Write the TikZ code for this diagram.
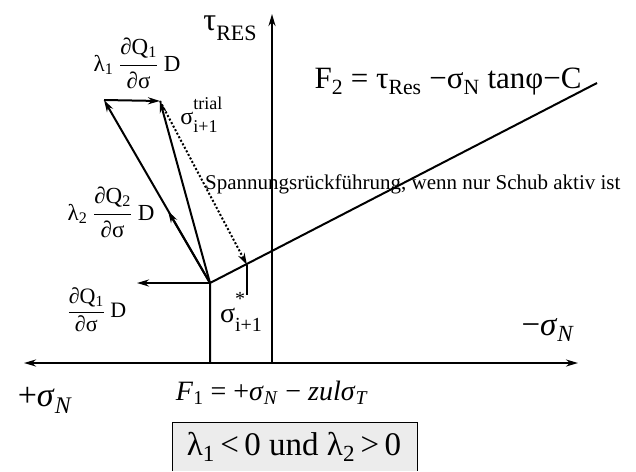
\documentclass[tikz,border=0pt]{standalone}
\usepackage{fontspec}
\setmainfont{Liberation Serif}
\usetikzlibrary{arrows.meta}
\newcommand{\myfr}[2]{$\displaystyle\frac{\mbox{#1}}{\mbox{#2}}$}
\newcommand{\fs}[1]{\fontsize{#1}{#1}\selectfont}
\newcommand{\supsub}[2]{\rlap{\raisebox{0.62em}{#1}}\raisebox{-0.32em}{#2}}
\begin{document}
\begin{tikzpicture}[x=1pt,y=-1pt,
  ln/.style={line width=2pt},
  tip/.style={-{Stealth[length=12pt,width=7pt]}},
  arr/.style={ln,tip},
  lbl/.style={inner sep=0pt,anchor=center}]
\useasboundingbox (0,0) rectangle (636,471);
% points
\coordinate (L) at (24,363);
\coordinate (R) at (578,363);
\coordinate (O) at (272,363);
\coordinate (T) at (272,14);
\coordinate (B) at (210,363);
\coordinate (A) at (210,283);
\coordinate (E) at (597,83);
\coordinate (P) at (137,283);
\coordinate (U) at (104,100);
\coordinate (M) at (168,211);
\coordinate (S) at (160,101);
\coordinate (K) at (247,265);
\coordinate (Kb) at (247,295);
% axes
\draw[ln,{Stealth[length=12pt,width=7pt]}-{Stealth[length=12pt,width=7pt]}] (L) -- (R);
\draw[arr] (O) -- (T);
% yield surfaces
\draw[ln] (B) -- (A) -- (E);
% vectors
\draw[arr] (A) -- (P);
\draw[arr] (A) -- (U);
\draw[arr] (A) -- (M);
\draw[arr] (U) -- (S);
\draw[arr] (A) -- (S);
\draw[line width=2pt,dotted,tip] (S) -- (K);
\draw[line width=1.2pt] (K) -- (Kb);
% labels
\node[lbl] (tau) at (230,28) {\fs{32}τ\raisebox{-0.3em}{\fs{22}RES}};
\node[lbl] (f2) at (448,82) {\fs{31}F\textsubscript{2} = τ\textsubscript{Res} −σ\textsubscript{N} tanφ−C};
\node[lbl,anchor=west] (sp) at (205,184) {\fs{21}Spannungsrückführung, wenn nur Schub aktiv ist};
\node[lbl] (l1) at (137,63) {\fs{23}λ\textsubscript{1} \myfr{∂Q\textsubscript{1}}{∂σ} D};
\node[lbl] (tr) at (199,115) {\fs{24}σ\supsub{\fs{18}trial}{\fs{18}i+1}};
\node[lbl] (l2) at (111,212) {\fs{23}λ\textsubscript{2} \myfr{∂Q\textsubscript{2}}{∂σ} D};
\node[lbl] (q1) at (97,310) {\fs{22}\myfr{∂Q\textsubscript{1}}{∂σ} D};
\node[lbl] (ss) at (241,312) {\fs{28}σ\supsub{\fs{20}*}{\fs{20}i+1}};
\node[lbl] (mn) at (548,330) {\fs{33}−\textit{σ}\textsubscript{\textit{N}}};
\node[lbl] (pn) at (45,400) {\fs{34}+\textit{σ}\textsubscript{\textit{N}}};
\node[lbl] (f1) at (272,393) {\fs{28}\textit{F}\textsubscript{1} = +\textit{σ}\textsubscript{\textit{N}} − \textit{zulσ}\textsubscript{\textit{T}}};
% condition box
\fill[gray!15] (172,471) rectangle (417,422);
\draw[line width=1pt] (172,471) -- (172,422) -- (417,422) -- (417,471);
\node[lbl] (cond) at (294,447) {\fs{33}λ\textsubscript{1}\,<\,0 und λ\textsubscript{2}\,>\,0};
\end{tikzpicture}
\end{document}
